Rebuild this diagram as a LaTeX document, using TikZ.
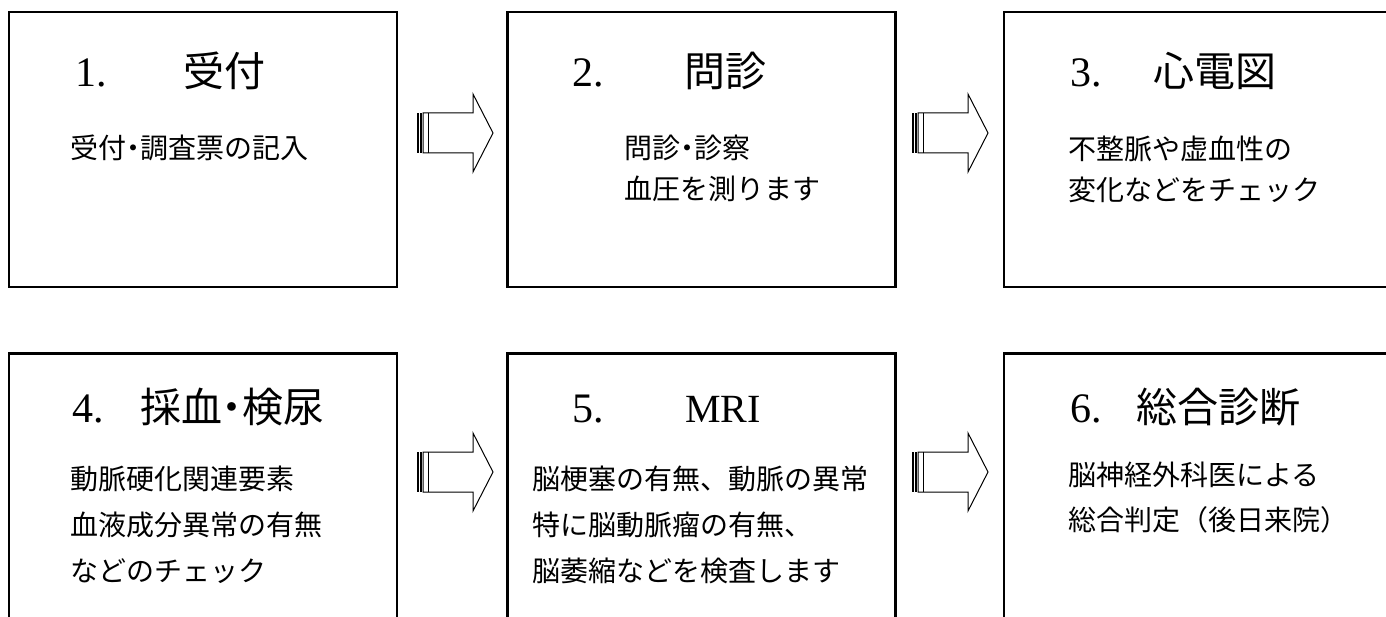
\documentclass[tikz,border=0pt]{standalone}
\usepackage{fontspec}
\setmainfont{Liberation Serif}
\newfontfamily\cjk{Noto Sans CJK JP}
\newcommand{\nd}{\kern-0.25em・\kern-0.25em}
\tikzset{
  stepbox/.style={draw=black, line width=2.6pt, rectangle, minimum width=388pt, minimum height=275pt, inner sep=0pt},
  numtext/.style={anchor=base west, inner sep=0pt, font=\fontsize{42pt}{42pt}\selectfont},
  latintitle/.style={anchor=base west, inner sep=0pt, font=\fontsize{40pt}{40pt}\selectfont},
  ttext/.style={anchor=base west, inner sep=0pt, font=\cjk\fontsize{41pt}{41pt}\selectfont},
  btext/.style={anchor=base west, inner sep=0pt, font=\cjk\fontsize{28pt}{28pt}\selectfont},
  arrowline/.style={draw=black, line width=1pt, line join=miter},
  stripedarrow/.pic={
    \fill[black] (0,-20) rectangle (1.5,20);
    \fill[black] (3,-20) rectangle (4.5,20);
    \draw[arrowline, fill=white] (6,-20) -- (56,-20) -- (56,-39) -- (76,0) -- (56,39) -- (56,20) -- (6,20) -- cycle;
    \draw[arrowline] (11,-20) -- (11,20);
  }
}
\begin{document}
\begin{tikzpicture}[x=1pt,y=-1pt]
\useasboundingbox (0,0) rectangle (1386,617);
\clip (0,0) rectangle (1386,617);
\fill[white] (0,0) rectangle (1386,617);
% boxes
\node[stepbox] (box1) at (203,149.5) {};
\node[stepbox] (box2) at (701.5,149.5) {};
\node[stepbox] (box3) at (1198,149.5) {};
\node[stepbox] (box4) at (203,491) {};
\node[stepbox] (box5) at (701.5,491) {};
\node[stepbox] (box6) at (1198,491) {};
% arrows
\pic at (417,133) {stripedarrow};
\pic at (912,133) {stripedarrow};
\pic at (417,472) {stripedarrow};
\pic at (912,472) {stripedarrow};
% titles row 1
\node[numtext] (n1) at (75,87) {1.};
\node[ttext] (t1) at (183,87) {受付};
\node[numtext] (n2) at (572,87) {2.};
\node[ttext] (t2) at (684,87) {問診};
\node[numtext] (n3) at (1070,87) {3.};
\node[ttext] (t3) at (1153,87) {心電図};
% titles row 2
\node[numtext] (n4) at (72,422) {4.};
\node[ttext] (t4) at (140,422) {採血\nd 検尿};
\node[numtext] (n5) at (572,422) {5.};
\node[latintitle] (t5) at (685,422) {MRI};
\node[numtext] (n6) at (1070,422) {6.};
\node[ttext] (t6) at (1136,422) {総合診断};
% body row 1
\node[btext] (b1a) at (70,159) {受付\nd 調査票の記入};
\node[btext] (b2a) at (624,159) {問診\nd 診察};
\node[btext] (b2b) at (624,200) {血圧を測ります};
\node[btext] (b3a) at (1068,160) {不整脈や虚血性の};
\node[btext] (b3b) at (1068,201) {変化などをチェック};
% body row 2
\node[btext] (b4a) at (70,489) {動脈硬化関連要素};
\node[btext] (b4b) at (70,535) {血液成分異常の有無};
\node[btext] (b4c) at (70,581) {などのチェック};
\node[btext] (b5a) at (532,489) {脳梗塞の有無、動脈の異常};
\node[btext] (b5b) at (532,535) {特に脳動脈瘤の有無、};
\node[btext] (b5c) at (532,581) {脳萎縮などを検査します};
\node[btext] (b6a) at (1068,485) {脳神経外科医による};
\node[btext] (b6b) at (1068,530) {総合判定（後日来院）};
\end{tikzpicture}
\end{document}
